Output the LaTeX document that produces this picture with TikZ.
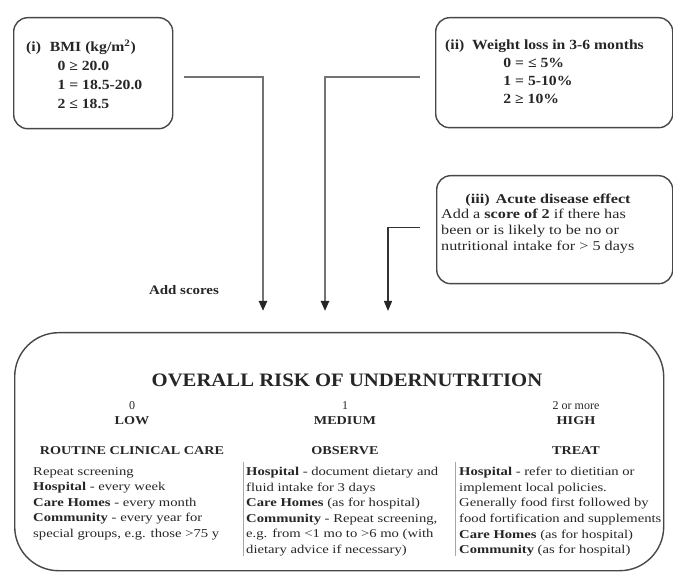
\documentclass[tikz,border=0pt]{standalone}
\usepackage{fontspec}
\setmainfont{Liberation Serif}
\usetikzlibrary{arrows.meta}
\begin{document}
\begin{tikzpicture}[x=1pt,y=-1pt,
  box/.style={draw=black!72, line width=1.4pt, anchor=north west, inner sep=0pt},
  conn/.style={draw=black!55, line width=2.3pt, -{Triangle[length=10pt,width=8pt,color=black!85]}},
  connthin/.style={draw=black!80, line width=1.2pt, -{Triangle[length=10pt,width=8pt,color=black!85]}},
  toptxt/.style={anchor=north west, align=left, inner sep=0pt, xscale=1.12, text=black!85,
    font=\bfseries\fontsize{14}{19}\selectfont},
  txt/.style={anchor=north west, align=left, inner sep=0pt, xscale=1.22, text=black!85,
    font=\fontsize{12}{15.6}\selectfont},
  hd/.style={inner sep=0pt, xscale=1.18, text=black!85, font=\bfseries\fontsize{12}{14}\selectfont},
  num/.style={inner sep=0pt, text=black!85, font=\fontsize{12}{14}\selectfont},
  sep/.style={draw=black!35, line width=0.8pt},
]
\useasboundingbox (0,0) rectangle (673,572);

% input boxes
\node[box, rounded corners=14pt, minimum width=159pt, minimum height=111pt] (bmi) at (13,17) {};
\node[box, rounded corners=14pt, minimum width=237pt, minimum height=110pt] (wl) at (435,17) {};
\node[box, rounded corners=14pt, minimum width=236pt, minimum height=108pt] (ade) at (436,175) {};

\node[toptxt] (bmitxt) at (26,40)
  {(i)\hspace{8pt}BMI (kg/m\textsuperscript{2})\\
   \hspace*{28pt}0 ≥ 20.0\\
   \hspace*{28pt}1 = 18.5-20.0\\
   \hspace*{28pt}2 ≤ 18.5};
\node[toptxt, font=\bfseries\fontsize{14}{18}\selectfont] (wltxt) at (445,40)
  {(ii)\hspace{7pt}Weight loss in 3-6 months\\
   \hspace*{52pt}0 = ≤ 5\%\\
   \hspace*{52pt}1 = 5-10\%\\
   \hspace*{52pt}2 ≥ 10\%};
\node[inner sep=0pt, xscale=1.2, text=black!85, font=\bfseries\fontsize{13.5}{16}\selectfont] (adehd) at (548,200)
  {(iii)\hspace{5pt}Acute disease effect};
\node[anchor=north west, align=left, inner sep=0pt, xscale=1.2, text=black!85,
      font=\fontsize{13.5}{16}\selectfont] (adetxt) at (441,209)
  {Add a \textbf{score of 2} if there has\\
   been or is likely to be no or\\
   nutritional intake for > 5 days};

\node[inner sep=0pt, xscale=1.15, text=black!85, font=\bfseries\fontsize{13}{15}\selectfont] (add) at (184,290) {Add scores};

% arrow ends
\coordinate (t1) at (263,311);
\coordinate (t2) at (325,311);
\coordinate (t3) at (388,311);
\draw[conn] ([xshift=11pt,yshift=-3.5pt]bmi.east) -| (t1);
\draw[conn] ([xshift=-15pt,yshift=-4pt]wl.west) -| (t2);
\draw[connthin] ([xshift=-16pt,yshift=2pt]ade.west) -| (t3);

% overall risk box
\node[box, rounded corners=44pt, minimum width=649pt, minimum height=238pt] (risk) at (14,332) {};
\node[inner sep=0pt, xscale=1.09, text=black!85, font=\bfseries\fontsize{19}{21}\selectfont] (title) at (347,380) {OVERALL RISK OF UNDERNUTRITION};

\node[num] (s0) at (132,406) {0};
\node[hd] (low) at (132,421) {LOW};
\node[hd] (rcc) at (132,451) {ROUTINE CLINICAL CARE};

\node[num] (s1) at (345,406) {1};
\node[hd] (med) at (345,421) {MEDIUM};
\node[hd] (obs) at (345,451) {OBSERVE};

\node[num] (s2) at (576,406) {2 or more};
\node[hd] (high) at (576,421) {HIGH};
\node[hd] (treat) at (576,451) {TREAT};

\draw[sep] (243,462) -- (243,556);
\draw[sep] (455,462) -- (455,556);

\node[txt] (c1) at (33,467)
  {Repeat screening\\
   \textbf{Hospital} - every week\\
   \textbf{Care Homes} - every month\\
   \textbf{Community} - every year for\\
   special groups, e.g. those >75 y};
\node[txt] (c2) at (246,467)
  {\textbf{Hospital} - document dietary and\\
   fluid intake for 3 days\\
   \textbf{Care Homes} (as for hospital)\\
   \textbf{Community} - Repeat screening,\\
   e.g. from <1 mo to >6 mo (with\\
   dietary advice if necessary)};
\node[txt] (c3) at (459,467)
  {\textbf{Hospital} - refer to dietitian or\\
   implement local policies.\\
   Generally food first followed by\\
   food fortification and supplements\\
   \textbf{Care Homes} (as for hospital)\\
   \textbf{Community} (as for hospital)};
\end{tikzpicture}
\end{document}
